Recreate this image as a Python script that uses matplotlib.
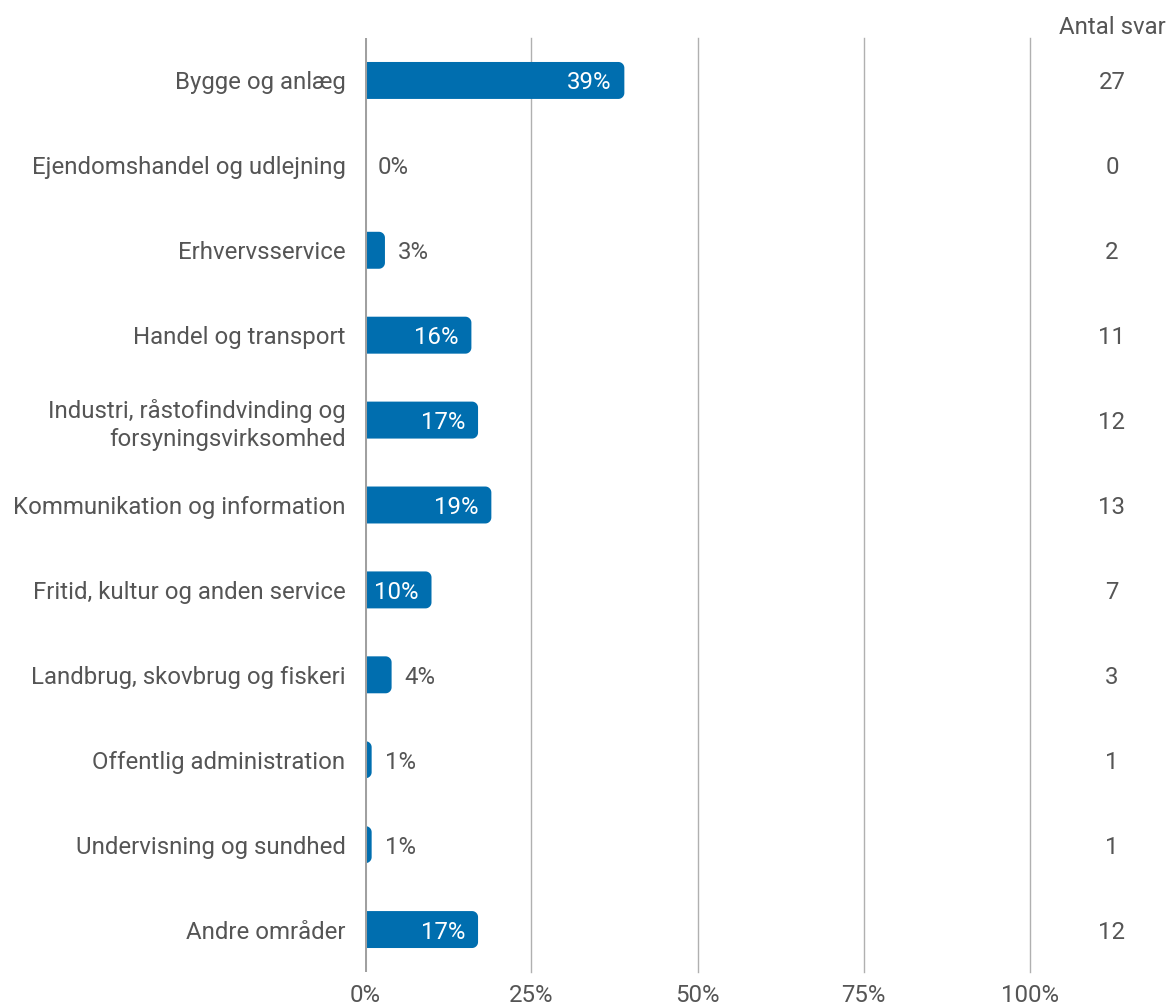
import matplotlib
matplotlib.use("Agg")
import numpy as np
import matplotlib.pyplot as plt
from matplotlib.patches import Polygon

plt.rcParams['font.family'] = ['Roboto', 'DejaVu Sans']

categories = [
    "Bygge og anlæg",
    "Ejendomshandel og udlejning",
    "Erhvervsservice",
    "Handel og transport",
    "Industri, råstofindvinding og\nforsyningsvirksomhed",
    "Kommunikation og information",
    "Fritid, kultur og anden service",
    "Landbrug, skovbrug og fiskeri",
    "Offentlig administration",
    "Undervisning og sundhed",
    "Andre områder",
]
percents = [39, 0, 3, 16, 17, 19, 10, 4, 1, 1, 17]
counts = [27, 0, 2, 11, 12, 13, 7, 3, 1, 1, 12]
xticks = [0, 25, 50, 75, 100]

blue = "#006eaf"
grey_text = "#555555"
fs = 17.3

fig = plt.figure(figsize=(11.75, 10.08), dpi=100)
ax = fig.add_axes([365 / 1175, 1 - 972 / 1008, 665 / 1175, 934 / 1008])
ax.set_xlim(0, 100)
ax.set_ylim(len(categories) - 0.5, -0.5)

# px -> data units
px_x = 100 / 665
px_y = 1 / 85
bar_h = 37 * px_y
r = 6


def right_rounded(y, w):
    # bar with rounded right corners, radius in px
    rx = min(r * px_x, w)
    ry = r * px_y
    y0, y1 = y - bar_h / 2, y + bar_h / 2
    t = np.linspace(0, np.pi / 2, 12)
    top = [(w - rx + rx * np.sin(a), y0 + ry - ry * np.cos(a)) for a in t]
    bot = [(w - rx + rx * np.cos(a), y1 - ry + ry * np.sin(a)) for a in t]
    pts = [(0, y0)] + top + bot + [(0, y1)]
    return Polygon(pts, closed=True, fc=blue, ec="none", zorder=2)


for x in xticks[1:]:
    ax.axvline(x, color="#b0b0b0", lw=1, zorder=0, clip_on=False)
ax.axvline(0, color="#a0a0a0", lw=2.2, zorder=3)

for i, (p, n) in enumerate(zip(percents, counts)):
    if p > 0:
        ax.add_patch(right_rounded(i, p))
    if p >= 10:
        ax.text(p - 13 * px_x, i, f"{p}%", ha="right", va="center_baseline",
                color="white", fontsize=fs)
    else:
        ax.text(p + 13 * px_x, i, f"{p}%", ha="left", va="center_baseline",
                color=grey_text, fontsize=fs)
    ax.text((1112 - 365) * px_x, i, str(n), ha="center",
            va="center_baseline", color=grey_text, fontsize=fs, clip_on=False)

fig.text(1112 / 1175, 1 - 27 / 1008, "Antal svar", ha="center", va="center",
         color=grey_text, fontsize=fs)

ax.set_yticks(range(len(categories)))
ax.set_yticklabels(categories, fontsize=fs, color=grey_text, linespacing=1.25)
ax.tick_params(axis="y", length=0, pad=14)
ax.set_xticks(xticks)
ax.set_xticklabels([f"{x}%" for x in xticks], fontsize=fs, color=grey_text)
ax.tick_params(axis="x", length=0, pad=9)
for s in ax.spines.values():
    s.set_visible(False)

fig.savefig("out.png", dpi=100)
